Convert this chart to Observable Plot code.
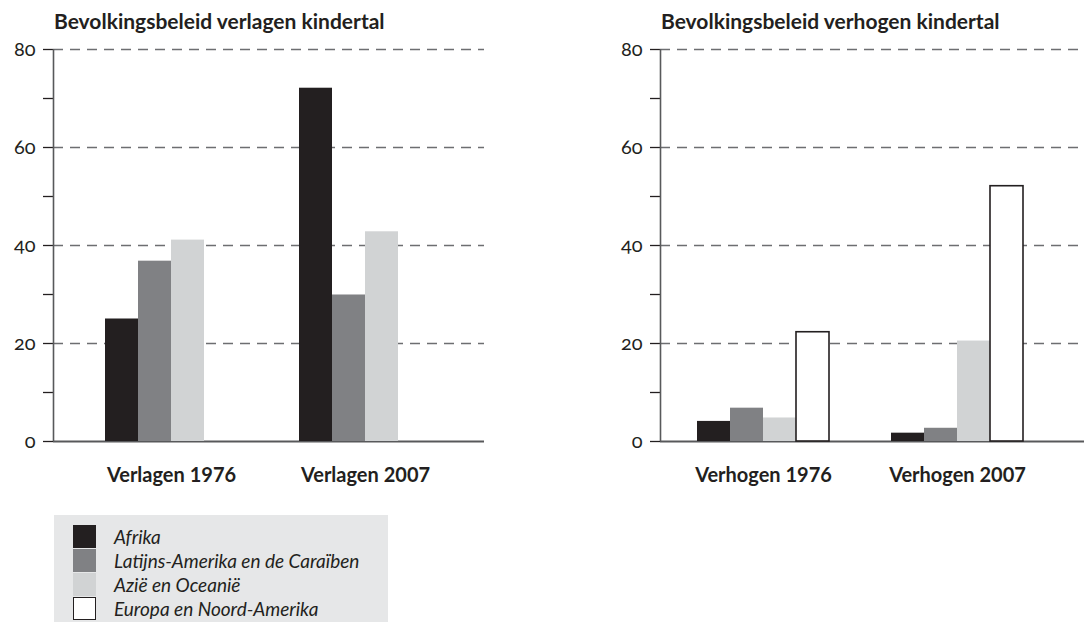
<!DOCTYPE html>
<html>
<head>
<meta charset="utf-8">
<script src="https://cdn.jsdelivr.net/npm/d3@7"></script>
<script src="https://cdn.jsdelivr.net/npm/@observablehq/plot@0.6"></script>
<style>
  html, body { margin: 0; padding: 0; background: #fff; }
  #page { position: relative; width: 1084px; height: 626px; overflow: hidden; font-family: Lato, "Open Sans", sans-serif; color: #231f20; }
  .layer { position: absolute; top: 0; }
  .title { position: absolute; top: 10px; font-size: 21px; line-height: 21px; font-weight: bold; white-space: nowrap; }
  .ylab text { font-variant-numeric: oldstyle-nums; font-feature-settings: "onum" 1; }
  #legend { position: absolute; left: 54px; top: 515px; width: 334px; height: 107px; background: #e6e7e8; }
  .item { position: absolute; left: 19px; height: 24px; display: flex; align-items: center; }
  .sw { width: 23px; height: 23px; box-sizing: border-box; flex: none; }
  .lt { margin-left: 18px; font-size: 19px; font-style: italic; white-space: nowrap; }
</style>
</head>
<body>
<div id="page"></div>
<script>
// ---- data ----
const regions = ["Afrika", "Latijns-Amerika en de Caraïben", "Azië en Oceanië", "Europa en Noord-Amerika"];
const regionColors = ["#231f20", "#808184", "#d1d3d4", "#ffffff"];
const groupsLeft = ["Verlagen 1976", "Verlagen 2007"];
const groupsRight = ["Verhogen 1976", "Verhogen 2007"];
const verlagen1976 = [25, 36.8, 41.1, null];
const verlagen2007 = [72.1, 29.9, 42.8, null];
const verhogen1976 = [4.1, 6.8, 4.8, 22.3];
const verhogen2007 = [1.7, 2.7, 20.5, 52.1];
const titleLeft = "Bevolkingsbeleid verlagen kindertal";
const titleRight = "Bevolkingsbeleid verhogen kindertal";
const yTicks = [0, 10, 20, 30, 40, 50, 60, 70, 80];
const yLabels = [0, 20, 40, 60, 80];
const gridValues = [20, 40, 60, 80];

function rows(groups, series) {
  const out = [];
  groups.forEach((g, gi) => regions.forEach((r, ri) => {
    const v = series[gi][ri];
    if (v != null) out.push({group: g, region: r, value: v});
  }));
  return out;
}
const dataLeft = rows(groupsLeft, [verlagen1976, verlagen2007]);
const dataRight = rows(groupsRight, [verhogen1976, verhogen2007]);

const page = document.getElementById("page");
const H = 500, MT = 49, MB = 59;
const ink = "#231f20", axisInk = "#58595b", gridInk = "#6d6e71";
const font = "Lato, 'Open Sans', sans-serif";

function background(width, marginLeft) {
  return Plot.plot({
    width, height: H, marginTop: MT, marginBottom: MB, marginLeft, marginRight: 0,
    style: {background: "transparent", overflow: "visible", fontFamily: font, color: ink},
    x: {domain: [0, 1], axis: null},
    y: {domain: [0, 80], axis: null},
    marks: [
      Plot.ruleY(gridValues, {stroke: gridInk, strokeWidth: 1.3, strokeDasharray: "10,7"}),
      Plot.axisY({ticks: yTicks, tickSize: 10, tickPadding: 8, fontSize: 20, stroke: ink, strokeWidth: 1.3,
        tickFormat: d => yLabels.includes(d) ? String(d) : "", className: "ylab", label: null}),
      Plot.ruleX([0], {stroke: axisInk, strokeWidth: 1.6}),
      Plot.ruleY([0], {stroke: axisInk, strokeWidth: 1.8})
    ]
  });
}

function foreground(width, marginLeft, groups, data, paddingOuter, align) {
  return Plot.plot({
    width, height: H, marginTop: MT, marginBottom: MB, marginLeft, marginRight: 0,
    style: {background: "transparent", overflow: "visible", fontFamily: font, color: ink},
    fx: {domain: groups, paddingInner: 0.3093, paddingOuter, align, label: null},
    x: {domain: regions, padding: 0, axis: null},
    y: {domain: [0, 80], axis: null},
    color: {domain: regions, range: regionColors},
    marks: [
      Plot.barY(data, {fx: "group", x: "region", y: "value", fill: "region"}),
      Plot.barY(data.filter(d => d.region === regions[3]), {fx: "group", x: "region", y: "value", fill: "none", stroke: ink, strokeWidth: 1.6}),
      Plot.axisFx({anchor: "bottom", tickSize: 0, tickPadding: 26, fontSize: 20, fontWeight: "bold", label: null})
    ]
  });
}

function place(node, left) {
  node.classList.add("layer");
  node.style.left = left + "px";
  page.appendChild(node);
}

// left panel: frame 53..482
place(background(484, 53), 0);
place(foreground(482, 53, groupsLeft, dataLeft, 0.258, 0.5), 0);
// right panel: frame 660..1084
place(background(524, 100), 560);
place(foreground(524, 100, groupsRight, dataRight, 0.2474, 0.375), 560);

function addTitle(text, left) {
  const t = document.createElement("div");
  t.className = "title";
  t.style.left = left + "px";
  t.textContent = text;
  page.appendChild(t);
}
addTitle(titleLeft, 54);
addTitle(titleRight, 661);

// legend
const legend = document.createElement("div");
legend.id = "legend";
regions.forEach((r, i) => {
  const item = document.createElement("div");
  item.className = "item";
  item.style.top = (9 + i * 24) + "px";
  const sw = document.createElement("div");
  sw.className = "sw";
  sw.style.background = regionColors[i];
  if (i === 3) sw.style.border = "1.5px solid " + ink;
  const lt = document.createElement("span");
  lt.className = "lt";
  lt.textContent = r;
  item.appendChild(sw);
  item.appendChild(lt);
  legend.appendChild(item);
});
page.appendChild(legend);
</script>
</body>
</html>
